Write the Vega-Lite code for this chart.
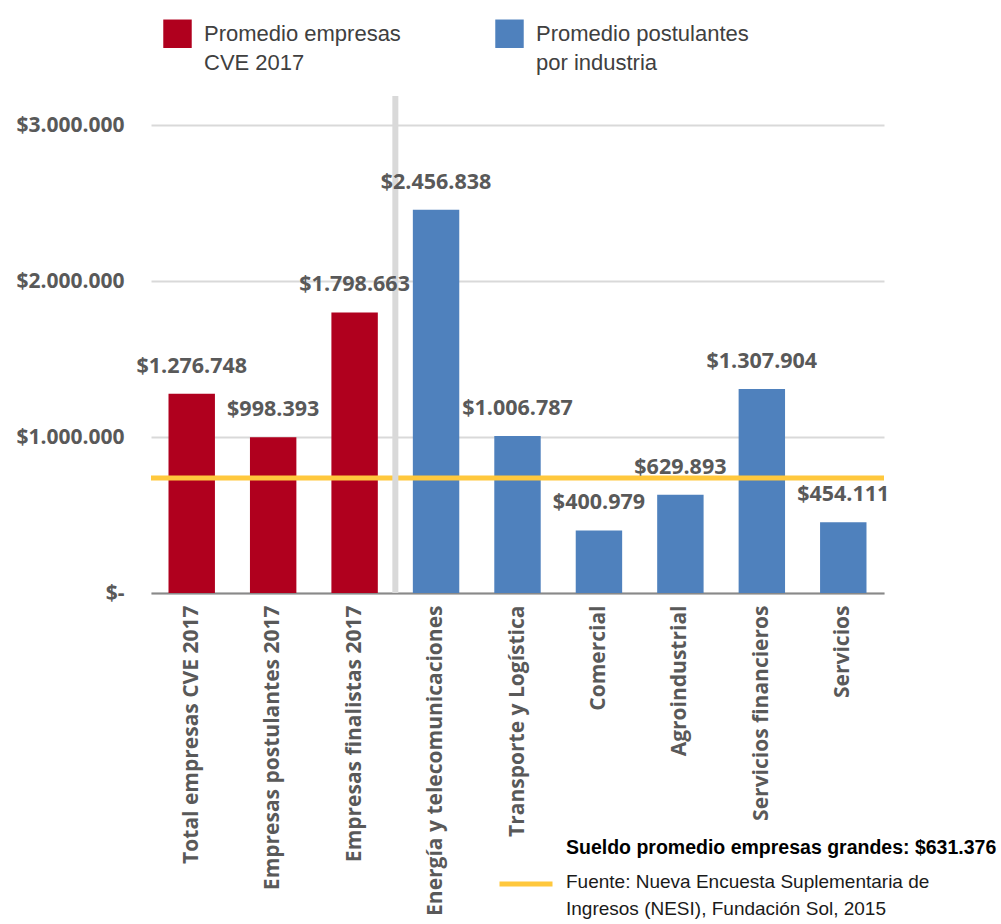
{
  "$schema": "https://vega.github.io/schema/vega-lite/v6.json",
  "autosize": {"type": "none"},
  "padding": {"left": 151, "top": 96, "right": 117, "bottom": 331},
  "width": 733,
  "height": 497,
  "background": "white",
  "datasets": {
    "barras": [
      {"categoria": "Total empresas CVE 2017", "sueldo": 1276748, "grupo": "Promedio empresas CVE 2017"},
      {"categoria": "Empresas postulantes 2017", "sueldo": 998393, "grupo": "Promedio empresas CVE 2017"},
      {"categoria": "Empresas finalistas 2017", "sueldo": 1798663, "grupo": "Promedio empresas CVE 2017"},
      {"categoria": "Energía y telecomunicaciones", "sueldo": 2456838, "grupo": "Promedio postulantes por industria"},
      {"categoria": "Transporte y Logística", "sueldo": 1006787, "grupo": "Promedio postulantes por industria"},
      {"categoria": "Comercial", "sueldo": 400979, "grupo": "Promedio postulantes por industria"},
      {"categoria": "Agroindustrial", "sueldo": 629893, "grupo": "Promedio postulantes por industria"},
      {"categoria": "Servicios financieros", "sueldo": 1307904, "grupo": "Promedio postulantes por industria"},
      {"categoria": "Servicios", "sueldo": 454111, "grupo": "Promedio postulantes por industria"}
    ],
    "referencia": [{"nivel": 737000, "serie": "Sueldo promedio empresas grandes"}],
    "separador": [{"categoria": "Energía y telecomunicaciones"}]
  },
  "title": {
    "text": "Sueldo promedio empresas grandes: $631.376",
    "subtitle": ["Fuente: Nueva Encuesta Suplementaria de", "Ingresos (NESI), Fundación Sol, 2015"],
    "orient": "bottom",
    "anchor": "start",
    "frame": "group",
    "dx": 415,
    "dy": -76,
    "offset": 0,
    "font": "Liberation Sans, Arial, sans-serif",
    "fontSize": 19.5,
    "fontWeight": "bold",
    "color": "#000000",
    "subtitleFont": "Liberation Sans, Arial, sans-serif",
    "subtitleFontSize": 19,
    "subtitleColor": "#1a1a1a",
    "subtitleLineHeight": 27,
    "subtitlePadding": 14,
    "baseline": "top"
  },
  "layer": [
    {
      "data": {"name": "barras"},
      "mark": {"type": "bar"},
      "encoding": {
        "x": {
          "field": "categoria",
          "type": "nominal",
          "sort": ["Total empresas CVE 2017", "Empresas postulantes 2017", "Empresas finalistas 2017", "Energía y telecomunicaciones", "Transporte y Logística", "Comercial", "Agroindustrial", "Servicios financieros", "Servicios"],
          "scale": {"paddingInner": 0.43, "paddingOuter": 0.215},
          "axis": {
            "title": null,
            "domain": true,
            "domainColor": "#898989",
            "domainWidth": 2,
            "ticks": false,
            "grid": false,
            "labelAngle": 270,
            "labelFont": "Open Sans",
            "labelFontWeight": "bold",
            "labelFontSize": 21,
            "labelColor": "#595959",
            "labelPadding": 12,
            "labelLimit": 400
          }
        },
        "y": {
          "field": "sueldo",
          "type": "quantitative",
          "scale": {"domain": [0, 3186000], "nice": false},
          "axis": {
            "title": null,
            "domain": false,
            "ticks": false,
            "grid": true,
            "gridColor": "#d9d9d9",
            "gridWidth": 2,
            "values": [0, 1000000, 2000000, 3000000],
            "labelExpr": "datum.value == 0 ? '$-' : format(datum.value, '$,.0f')",
            "labelFont": "Open Sans",
            "labelFontWeight": "bold",
            "labelFontSize": 21,
            "labelColor": "#595959",
            "labelPadding": 27
          }
        },
        "color": {
          "field": "grupo",
          "type": "nominal",
          "scale": {"domain": ["Promedio empresas CVE 2017", "Promedio postulantes por industria"], "range": ["#B0001E", "#4F81BD"]},
          "legend": {
            "title": null,
            "orient": "none",
            "direction": "horizontal",
            "legendX": 12,
            "legendY": -77,
            "padding": 0,
            "symbolType": "square",
            "symbolSize": 810,
            "symbolStrokeWidth": 0,
            "labelFont": "Liberation Sans, Arial, sans-serif",
            "labelFontSize": 22,
            "labelColor": "#404040",
            "labelOffset": 12,
            "labelLimit": 400,
            "columnPadding": 94,
            "labelExpr": "datum.label == 'Promedio empresas CVE 2017' ? ['Promedio empresas', 'CVE 2017'] : ['Promedio postulantes', 'por industria']"
          }
        }
      }
    },
    {
      "data": {"name": "referencia"},
      "mark": {"type": "rule", "strokeWidth": 5},
      "encoding": {
        "y": {"field": "nivel", "type": "quantitative"},
        "stroke": {
          "field": "serie",
          "type": "nominal",
          "scale": {"range": ["#FFC83D"]},
          "legend": {
            "title": null,
            "orient": "none",
            "legendX": 346,
            "legendY": 759,
            "padding": 0,
            "symbolType": "stroke",
            "symbolSize": 2809,
            "symbolStrokeWidth": 5,
            "labelExpr": "''"
          }
        }
      }
    },
    {
      "data": {"name": "separador"},
      "mark": {"type": "rule", "strokeWidth": 6, "color": "#d9d9d9"},
      "encoding": {
        "x": {"field": "categoria", "type": "nominal", "bandPosition": -0.377, "sort": ["Total empresas CVE 2017", "Empresas postulantes 2017", "Empresas finalistas 2017", "Energía y telecomunicaciones", "Transporte y Logística", "Comercial", "Agroindustrial", "Servicios financieros", "Servicios"]}
      }
    },
    {
      "data": {"name": "barras"},
      "mark": {"type": "text", "baseline": "middle", "dy": -27, "font": "Open Sans", "fontWeight": "bold", "fontSize": 21.5, "color": "#595959"},
      "encoding": {
        "x": {"field": "categoria", "type": "nominal", "sort": ["Total empresas CVE 2017", "Empresas postulantes 2017", "Empresas finalistas 2017", "Energía y telecomunicaciones", "Transporte y Logística", "Comercial", "Agroindustrial", "Servicios financieros", "Servicios"]},
        "y": {"field": "sueldo", "type": "quantitative"},
        "text": {"field": "sueldo", "type": "quantitative", "format": "$,.0f"}
      }
    }
  ],
  "config": {
    "view": {"stroke": null},
    "locale": {"number": {"decimal": ",", "thousands": ".", "grouping": [3], "currency": ["$", ""]}},
    "style": {"guide-label": {"lineHeight": 29}}
  }
}
